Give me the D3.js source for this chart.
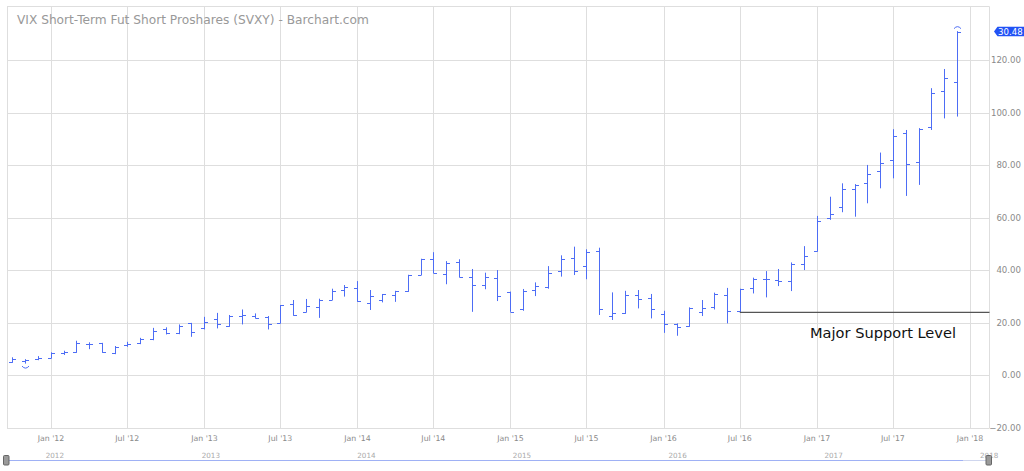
<!DOCTYPE html>
<html>
<head>
<meta charset="utf-8">
<script src="https://cdn.jsdelivr.net/npm/d3@7"></script>
<style>
  html, body { margin: 0; padding: 0; background: #fff; }
  svg { display: block; font-family: "DejaVu Sans", sans-serif; }
</style>
</head>
<body>
<svg id="chart" width="1024" height="471"></svg>
<script>
// ---- data (monthly OHLC) ----
const months = ["2011-10","2011-11","2011-12",
 "2012-01","2012-02","2012-03","2012-04","2012-05","2012-06","2012-07","2012-08","2012-09","2012-10","2012-11","2012-12",
 "2013-01","2013-02","2013-03","2013-04","2013-05","2013-06","2013-07","2013-08","2013-09","2013-10","2013-11","2013-12",
 "2014-01","2014-02","2014-03","2014-04","2014-05","2014-06","2014-07","2014-08","2014-09","2014-10","2014-11","2014-12",
 "2015-01","2015-02","2015-03","2015-04","2015-05","2015-06","2015-07","2015-08","2015-09","2015-10","2015-11","2015-12",
 "2016-01","2016-02","2016-03","2016-04","2016-05","2016-06","2016-07","2016-08","2016-09","2016-10","2016-11","2016-12",
 "2017-01","2017-02","2017-03","2017-04","2017-05","2017-06","2017-07","2017-08","2017-09","2017-10","2017-11","2017-12"];
const opens = [5.0,5.6,6.1,
 6.7,8.6,8.9,12.0,12.2,8.4,11.4,12.4,13.7,17.6,16.0,19.8,
 17.9,21.4,18.8,22.8,22.5,22.3,19.8,27.2,24.1,26.1,28.7,32.5,
 33.4,27.7,28.7,30.6,32.1,38.2,44.4,38.6,43.0,37.3,34.4,37.0,
 31.8,25.3,32.5,33.8,39.8,44.7,41.8,47.5,22.7,23.6,30.5,29.4,
 23.2,19.5,18.8,24.2,26.1,30.6,24.6,33.1,36.7,36.3,35.9,42.3,
 47.2,59.9,64.0,70.9,73.4,77.7,81.8,92.2,81.1,94.5,108.4,111.8];
const highs = [6.9,6.2,7.35,
 8.8,9.4,13.2,12.6,12.4,11.2,12.8,14.3,18.1,18.3,19.4,20.0,
 22.3,23.8,23.0,25.1,23.6,22.6,26.8,28.7,29.1,29.2,33.0,34.4,
 35.9,32.5,31.0,32.2,38.3,44.4,46.9,43.5,44.2,40.5,39.1,40.1,
 31.9,32.9,35.4,41.6,45.7,49.0,48.0,48.6,31.6,32.2,32.5,31.0,
 24.6,19.8,25.9,28.7,31.5,33.3,33.0,37.2,39.7,40.5,43.0,49.2,
 60.7,68.0,73.1,72.8,80.1,84.8,93.7,93.4,94.1,109.3,116.6,131.0];
const lows = [4.8,4.5,5.8,
 6.5,7.8,8.6,10.0,8.6,8.1,10.9,11.9,13.4,15.6,15.7,14.7,
 17.5,17.9,18.5,19.4,21.7,17.5,19.8,22.7,24.0,21.9,28.7,30.0,
 28.0,24.9,27.8,28.0,31.8,38.2,38.9,34.7,37.3,24.2,32.8,28.3,
 24.2,24.6,30.2,33.0,37.6,38.2,36.6,23.0,21.1,23.4,25.5,21.7,
 16.2,15.1,18.5,22.6,25.1,19.8,24.0,31.2,29.7,34.0,32.1,40.1,
 47.1,59.2,62.1,60.4,65.5,71.2,75.0,68.3,72.5,93.4,97.8,98.5];
const closes = [6.3,5.8,6.7,
 8.6,8.9,12.4,12.1,8.8,10.9,11.8,13.8,17.0,16.0,18.9,16.6,
 20.4,19.5,22.7,22.9,22.0,19.6,26.7,23.0,26.4,28.7,32.2,33.8,
 28.3,30.3,30.9,32.1,38.1,44.2,39.1,42.9,37.6,34.3,37.6,30.3,
 24.2,32.2,34.1,39.1,44.2,39.6,47.0,25.3,23.6,30.5,29.2,25.4,
 19.7,18.4,25.5,25.5,31.0,24.6,32.9,36.7,36.6,36.0,42.4,45.4,
 58.9,61.4,70.9,72.6,76.7,80.8,91.2,80.4,93.8,107.4,113.1,130.7];

const yTicks = [-20, 0, 20, 40, 60, 80, 100, 120];
const xTickDates = ["2012-01","2012-07","2013-01","2013-07","2014-01","2014-07","2015-01","2015-07","2016-01","2016-07","2017-01","2017-07","2018-01"];
const navYears = ["2012","2013","2014","2015","2016","2017","2018"];
const title = "VIX Short-Term Fut Short Proshares (SVXY) - Barchart.com";
const lastPriceLabel = "30.48";
const supportLevel = 24.0;
const supportStart = "2016-07";
const supportText = "Major Support Level";
const splitMarks = [{month: "2011-11", pos: "below"}, {month: "2017-12", pos: "above"}];

// ---- setup ----
const parse = d3.timeParse("%Y-%m");
const data = months.map((m, i) => ({date: parse(m), o: opens[i], h: highs[i], l: lows[i], c: closes[i]}));

const svg = d3.select("#chart");
const plotL = 7, plotR = 989.5, plotT = 6.5, plotB = 428;

const x = d3.scaleTime().domain([parse("2011-10"), parse("2018-01")]).range([12.4, 970]);
const y = d3.scaleLinear().domain([-20, 140]).range([428, 7.5]);
const px = v => Math.round(v) + 0.5;

// gridlines
const grid = svg.append("g");
grid.selectAll("line.h").data(yTicks).join("line")
  .attr("x1", plotL).attr("x2", plotR)
  .attr("y1", d => px(y(d))).attr("y2", d => px(y(d)))
  .attr("stroke", "#dedede").attr("stroke-width", 1);
grid.selectAll("line.v").data(xTickDates).join("line")
  .attr("x1", d => px(x(parse(d)))).attr("x2", d => px(x(parse(d))))
  .attr("y1", plotT).attr("y2", plotB)
  .attr("stroke", "#dedede").attr("stroke-width", 1);
// borders
svg.append("line").attr("x1", plotL).attr("x2", plotR).attr("y1", plotT).attr("y2", plotT).attr("stroke", "#dedede");
svg.append("line").attr("x1", plotL + 0.5).attr("x2", plotL + 0.5).attr("y1", plotT).attr("y2", plotB).attr("stroke", "#dedede");
svg.append("line").attr("x1", plotR).attr("x2", plotR).attr("y1", plotT).attr("y2", plotB).attr("stroke", "#dedede");

// title
svg.append("text").attr("x", 17).attr("y", 24)
  .attr("font-size", 12.2).attr("fill", "#999").text(title);

// y axis labels
svg.append("g").selectAll("text").data(yTicks).join("text")
  .attr("x", 1021).attr("y", d => y(d)).attr("dy", "0.35em")
  .attr("text-anchor", "end").attr("font-size", 8.6).attr("fill", "#8a8a8a")
  .text(d => d3.format(".2f")(d));

// x axis labels
const fmtX = d3.timeFormat("%b '%y");
svg.append("g").selectAll("text").data(xTickDates).join("text")
  .attr("x", d => x(parse(d))).attr("y", 441)
  .attr("text-anchor", "middle").attr("font-size", 7.8).attr("fill", "#8a8a8a")
  .text(d => fmtX(parse(d)));

// OHLC bars
const barColor = "#4d6df5";
const bars = svg.append("g").attr("stroke", barColor).attr("stroke-width", 1).attr("fill", "none");
const tick = 3.5;
data.forEach(d => {
  const cx = px(x(d.date));
  bars.append("line").attr("x1", cx).attr("x2", cx).attr("y1", y(d.h)).attr("y2", y(d.l));
  bars.append("line").attr("x1", cx - tick).attr("x2", cx).attr("y1", px(y(d.o))).attr("y2", px(y(d.o)));
  bars.append("line").attr("x1", cx).attr("x2", cx + tick).attr("y1", px(y(d.c))).attr("y2", px(y(d.c)));
});

// split/arc markers
splitMarks.forEach(s => {
  const d = data.find(e => +e.date === +parse(s.month));
  const cx = px(x(d.date));
  if (s.pos === "below") {
    const yy = y(d.l) + 2.5;
    bars.append("path").attr("d", `M${cx-3.5},${yy} Q${cx},${yy+4} ${cx+3.5},${yy}`);
  } else {
    const yy = y(d.h) - 2.5;
    bars.append("path").attr("d", `M${cx-3.5},${yy} Q${cx},${yy-4} ${cx+3.5},${yy}`);
  }
});

// support line & text
svg.append("line")
  .attr("x1", x(parse(supportStart))).attr("x2", plotR)
  .attr("y1", y(supportLevel)).attr("y2", y(supportLevel))
  .attr("stroke", "#555").attr("stroke-width", 1.4);
svg.append("text").attr("x", 810).attr("y", 338)
  .attr("font-size", 14.6).attr("fill", "#111").text(supportText);

// last price label
const lp = svg.append("g");
const ly = y(closes[closes.length - 1]) - 0.5;
lp.append("path")
  .attr("d", `M994,${ly} L997.5,${ly-4.7} L1024,${ly-4.7} L1024,${ly+4.7} L997.5,${ly+4.7} Z`)
  .attr("fill", "#2152f5");
lp.append("text").attr("x", 998).attr("y", ly).attr("dy", "0.36em")
  .attr("font-size", 8.6).attr("fill", "#fff").text(lastPriceLabel);

// navigator
const nx = d3.scaleTime().domain([parse("2011-10"), parse("2018-01")]).range([6.5, 980]);
const nav = svg.append("g");
nav.selectAll("text").data(navYears).join("text")
  .attr("x", d => nx(parse(d + "-01"))).attr("y", 458)
  .attr("font-size", 7.2).attr("fill", "#aaa").text(d => d);
nav.append("line").attr("x1", 7).attr("x2", 963).attr("y1", 460.5).attr("y2", 460.5)
  .attr("stroke", "#9fb1f5").attr("stroke-width", 1);
nav.append("line").attr("x1", 963).attr("x2", 989).attr("y1", 460.5).attr("y2", 460.5)
  .attr("stroke", "#cfd6ee").attr("stroke-width", 1);
[3.5, 986].forEach(hx => {
  nav.append("rect").attr("x", hx).attr("y", 455.5).attr("width", 5.5).attr("height", 9.5)
    .attr("rx", 1).attr("fill", "#9a9a9a").attr("stroke", "#666").attr("stroke-width", 1);
});
</script>
</body>
</html>
